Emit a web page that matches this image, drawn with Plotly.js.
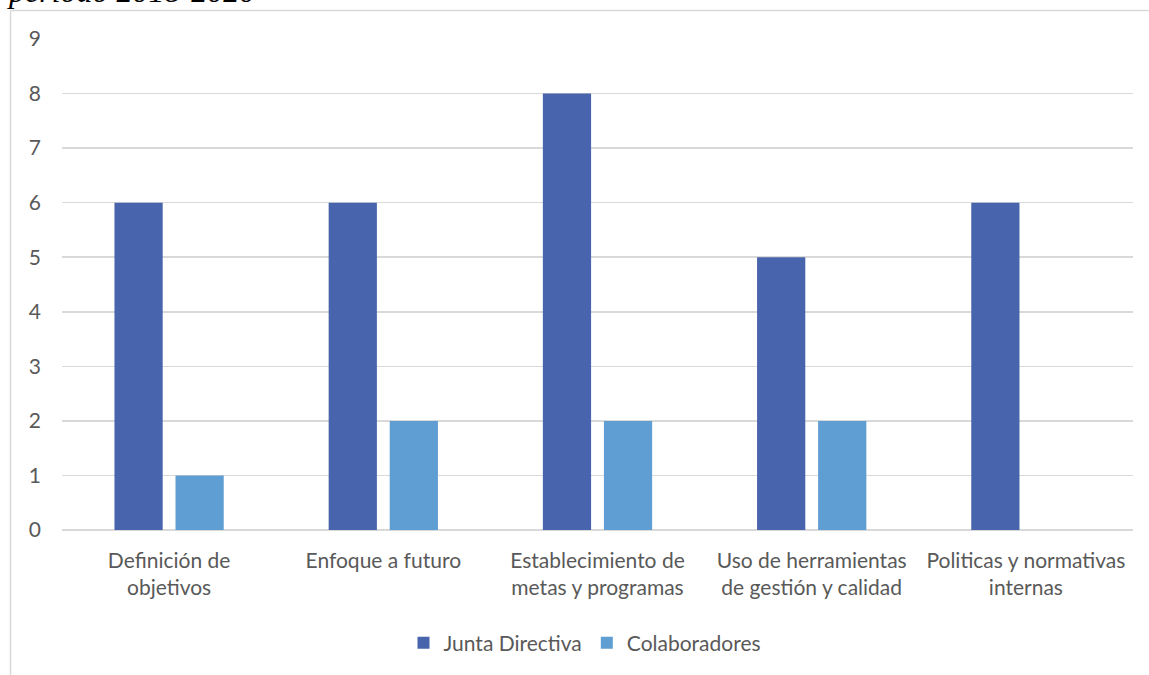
<!DOCTYPE html>
<html>
<head>
<meta charset="utf-8">
<script src="https://cdn.plot.ly/plotly-3.0.1.min.js"></script>
<style>
  html, body { margin: 0; padding: 0; background: #ffffff; }
  #chart { width: 1149px; height: 675px; }
</style>
</head>
<body>
<div id="chart"></div>
<script>
// Categories and counts per group
const categories = [
  "Definición de<br>objetivos",
  "Enfoque a futuro",
  "Establecimiento de<br>metas y programas",
  "Uso de herramientas<br>de gestión y calidad",
  "Politicas y normativas<br>internas"
];
const juntaDirectiva = [6, 6, 8, 5, 6];
const colaboradores = [1, 2, 2, 2, 0];
const yTickValues = [0, 1, 2, 3, 4, 5, 6, 7, 8, 9];
const seriesNames = ["Junta Directiva", "Colaboradores"];
const headingText = "periodo 2018-2020";

const W = 1149, H = 675;
const margin = { l: 62, r: 16, t: 39, b: 145 };
const plotW = W - margin.l - margin.r;
const plotH = H - margin.t - margin.b;
// pixel -> paper coordinate helpers for frame lines and heading
const px = x => (x - margin.l) / plotW;
const py = y => (H - margin.b - y) / plotH;

const labelFont = { family: "Lato, 'Open Sans', sans-serif", size: 21, color: "#595959" };

const traces = [
  {
    type: "bar",
    name: seriesNames[0],
    x: categories,
    y: juntaDirectiva,
    marker: { color: "#4864ac" },
    hoverinfo: "skip"
  },
  {
    type: "bar",
    name: seriesNames[1],
    x: categories,
    y: colaboradores,
    marker: { color: "#5f9ed2" },
    hoverinfo: "skip"
  }
];

const layout = {
  width: W,
  height: H,
  margin: margin,
  paper_bgcolor: "#ffffff",
  plot_bgcolor: "#ffffff",
  barmode: "group",
  bargap: 0.43,
  bargroupgap: 0.21,
  font: labelFont,
  showlegend: true,
  legend: {
    orientation: "h",
    x: px(585),
    xanchor: "center",
    y: py(643),
    yanchor: "middle",
    font: labelFont,
    itemwidth: 30,
    traceorder: "normal"
  },
  xaxis: {
    type: "category",
    tickfont: labelFont,
    showgrid: false,
    showline: false,
    zeroline: false,
    ticks: "",
    ticklabelstandoff: 16,
    fixedrange: true
  },
  yaxis: {
    range: [0, 9],
    tickvals: yTickValues,
    tickfont: labelFont,
    showgrid: true,
    gridcolor: "#d9d9d9",
    gridwidth: 1.5,
    zeroline: true,
    zerolinecolor: "#d9d9d9",
    zerolinewidth: 1.5,
    showline: false,
    ticks: "",
    ticklabelstandoff: 20,
    fixedrange: true
  },
  shapes: [
    // outer frame: left and top edges
    {
      type: "line", xref: "paper", yref: "paper",
      x0: px(10.5), x1: px(10.5), y0: py(10.5), y1: py(H + 5),
      line: { color: "#d9d9d9", width: 1.5 }
    },
    {
      type: "line", xref: "paper", yref: "paper",
      x0: px(10.5), x1: px(W + 5), y0: py(10.5), y1: py(10.5),
      line: { color: "#d9d9d9", width: 1.5 }
    }
  ],
  annotations: [
    {
      xref: "paper", yref: "paper",
      x: px(6), y: py(10),
      xanchor: "left", yanchor: "bottom",
      text: "<i>" + headingText + "</i>",
      showarrow: false,
      font: { family: "'Liberation Serif', 'DejaVu Serif', serif", size: 32, color: "#000000" },
      borderpad: 0
    }
  ]
};

Plotly.newPlot("chart", traces, layout, { displayModeBar: false, staticPlot: true });
</script>
</body>
</html>
